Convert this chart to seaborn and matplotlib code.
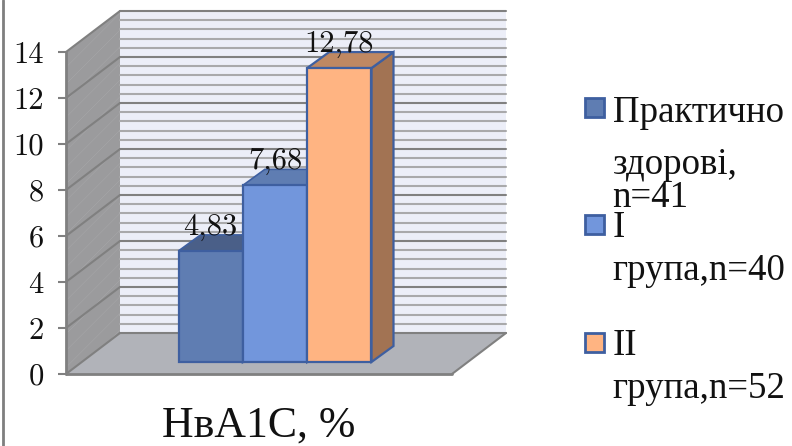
import matplotlib
matplotlib.use("Agg")
import matplotlib.pyplot as plt
from matplotlib.lines import Line2D
from matplotlib.patches import Polygon, Rectangle
from matplotlib.transforms import Affine2D, IdentityTransform
import pandas as pd
import seaborn as sns

category = ["НвА1С, %"]
groups = ["Практично здорові, n=41", "I група,n=40", "II група,n=52"]
values = [4.83, 7.68, 12.78]
value_labels = ["4,83", "7,68", "12,78"]
y_ticks = [0, 2, 4, 6, 8, 10, 12, 14]
minor_ticks = [v / 10 for v in range(4, 140, 4) if v % 20]
front_colors = ["#5F7DB2", "#7296DC", "#FFB482"]
top_colors = ["#4A5F88", "#5F7DB2", "#BF8862"]
side_colors = ["#4A5F88", "#5F7DB2", "#A27353"]
legend_lines = [["Практично", "здорові,", "n=41"], ["I", "група,n=40"], ["II", "група,n=52"]]
legend_baselines = [[122, 174, 207], [237, 280], [355, 398]]
legend_box_tops = [98, 215, 333]

W, H = 792, 446
plt.rcParams["hatch.linewidth"] = 0.4
plt.rcParams["axes.unicode_minus"] = False
plt.rcParams["axes.formatter.use_mathtext"] = True
sns.set_style("white")
fig = plt.figure(figsize=(W / 100, H / 100), dpi=100, facecolor="white")


def box(left, bottom_y, width, height):
    return [left / W, (H - bottom_y) / H, width / W, height / H]


ax = fig.add_axes(box(66, 374, 386, 322))
ax.set_xlim(-0.5, 0.5)
ax.set_ylim(0, 14)
ax.patch.set_alpha(0)
for s in ax.spines.values():
    s.set_visible(False)

back = ax.transData + Affine2D().translate(54, 41)
GRID, GRID_MINOR = "#808080", "#A9A9AB"

ax.add_patch(Rectangle((-0.5, 0), 1, 14, transform=back, fc="#ECEEF8", ec="none", zorder=1, clip_on=False))
p = ax.transData.transform
left_wall = [p((-0.5, 0)), p((-0.5, 14)), back.transform((-0.5, 14)), back.transform((-0.5, 0))]
ax.add_patch(Polygon(left_wall, closed=True, transform=IdentityTransform(), fc="#9B9B9D", ec="#A6A6A8", hatch="//", lw=0, zorder=1, clip_on=False))
floor = [p((-0.5, 0)), p((0.5, 0)), back.transform((0.5, 0)), back.transform((-0.5, 0))]
ax.add_patch(Polygon(floor, closed=True, transform=IdentityTransform(), fc="#B1B3B9", ec="none", zorder=1.1, clip_on=False))

for t in minor_ticks:
    ax.plot([-0.5, 0.5], [t, t], transform=back, color=GRID_MINOR, lw=1.5, zorder=1.2, clip_on=False)
for t in y_ticks:
    ax.plot([-0.5, 0.5], [t, t], transform=back, color=GRID, lw=1.5, zorder=1.3, clip_on=False)
    a, b = p((-0.5, t)), back.transform((-0.5, t))
    ax.plot([a[0], b[0]], [a[1], b[1]], transform=IdentityTransform(), color=GRID, lw=1.5, zorder=1.3, clip_on=False)
ax.plot([-0.5, -0.5], [0, 14], color=GRID, lw=2, zorder=1.4, clip_on=False)
ax.plot([-0.5, 0.5], [0, 0], color=GRID, lw=2, zorder=1.4, clip_on=False)
a, b = p((0.5, 0)), back.transform((0.5, 0))
ax.plot([a[0], b[0]], [a[1], b[1]], transform=IdentityTransform(), color=GRID, lw=1.5, zorder=1.4, clip_on=False)

ax.set_yticks(y_ticks)
ax.set_yticklabels([str(t) for t in y_ticks], fontfamily="cmr10", fontsize=22, color="#111111")
ax.tick_params(axis="y", left=True, length=6, width=1.5, color=GRID, pad=10)
ax.set_xticks([0])
ax.set_xticklabels(category, fontfamily="Liberation Serif", fontsize=31.5, color="#111111")
ax.tick_params(axis="x", bottom=False, length=0, pad=23)

bars_ax = fig.add_axes(box(82, 362, 386, 322))
df = pd.DataFrame({"metric": category * len(groups), "group": groups, "value": values})
sns.barplot(data=df, x="metric", y="value", hue="group", hue_order=groups, palette=front_colors,
            width=0.5, gap=0, saturation=1, legend=False, ax=bars_ax)
bars_ax.set_xlim(-0.5, 0.5)
bars_ax.set_ylim(0, 14)
bars_ax.axis("off")

EDGE = "#3E5FA0"
DX, DY = 22, 16
q = bars_ax.transData.transform
patches = sorted(bars_ax.patches, key=lambda r: r.get_x())
for i, r in enumerate(patches):
    x0, w, h = r.get_x(), r.get_width(), r.get_height()
    r.set_edgecolor(EDGE)
    r.set_linewidth(1.6)
    r.set_clip_on(False)
    r.set_zorder(3 + i + 0.5)
    bl, br, tl, tr = q((x0, 0)), q((x0 + w, 0)), q((x0, h)), q((x0 + w, h))
    shift = [DX, DY]
    bars_ax.add_patch(Polygon([br, tr, tr + shift, br + shift], closed=True, transform=IdentityTransform(),
                              fc=side_colors[i], ec=EDGE, lw=1.6, zorder=3 + i, clip_on=False))
    bars_ax.add_patch(Polygon([tl, tr, tr + shift, tl + shift], closed=True, transform=IdentityTransform(),
                              fc=top_colors[i], ec=EDGE, lw=1.2 if i < 2 else 1.6, zorder=3 + i, clip_on=False))
    bars_ax.annotate(value_labels[i], (x0 + w / 2, h), xytext=(0, 11.5), textcoords="offset points",
                     ha="center", va="baseline", fontfamily="cmr10", fontsize=22, color="#111111",
                     zorder=10, annotation_clip=False)

for i, lines in enumerate(legend_lines):
    fig.patches.append(Rectangle((585 / W, 1 - (legend_box_tops[i] + 19) / H), 19 / W, 19 / H, transform=fig.transFigure,
                                 fc=front_colors[i], ec=EDGE, lw=2, figure=fig))
    for line, y in zip(lines, legend_baselines[i]):
        fig.text(612.5 / W, 1 - y / H, line, fontfamily="Liberation Serif", fontsize=26.6, color="#111111",
                 ha="left", va="baseline")

fig.add_artist(Line2D([3 / W, 3 / W], [0, 1], transform=fig.transFigure, color="#7F7F7F", lw=2))

fig.savefig("out.png", dpi=100)
